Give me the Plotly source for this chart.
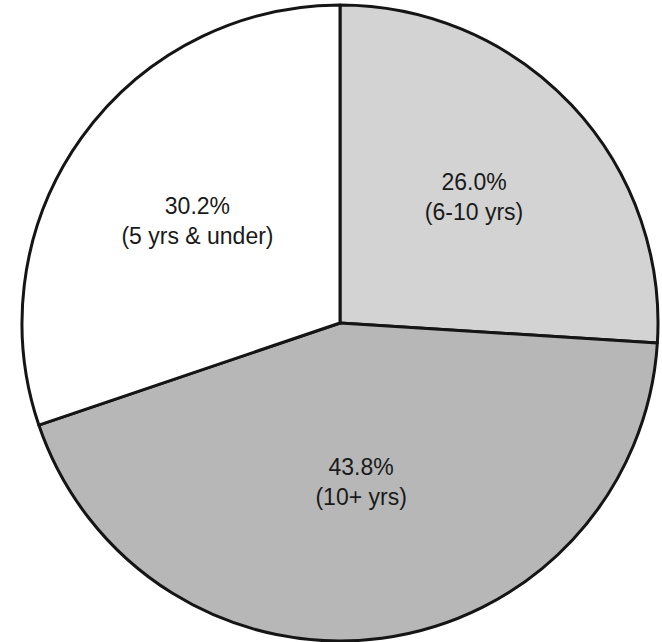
import plotly.graph_objects as go

categories = ["(6-10 yrs)", "(10+ yrs)", "(5 yrs & under)"]
values = [26.0, 43.8, 30.2]
colors = ["#d3d3d3", "#b7b7b7", "#ffffff"]

W, H = 662, 642
cx, cy, r = 340, 323, 318

fig = go.Figure(go.Pie(
    labels=categories,
    values=values,
    sort=False,
    direction="clockwise",
    rotation=0,
    marker=dict(colors=colors, line=dict(color="#151515", width=3)),
    texttemplate="%{value:.1f}%<br>%{label}",
    textposition="inside",
    insidetextorientation="horizontal",
    textfont=dict(family="Liberation Sans, Arial, sans-serif", size=23, color="#1a1a1a"),
    hoverinfo="skip",
    showlegend=False,
    domain=dict(x=[(cx - r) / W, (cx + r) / W], y=[(H - cy - r) / H, (H - cy + r) / H]),
))

fig.update_layout(
    width=W, height=H,
    margin=dict(l=0, r=0, t=0, b=0),
    paper_bgcolor="white",
    plot_bgcolor="white",
)

fig.write_html("out.html", config={"displayModeBar": False},
               post_script="document.body.style.margin='0';")
